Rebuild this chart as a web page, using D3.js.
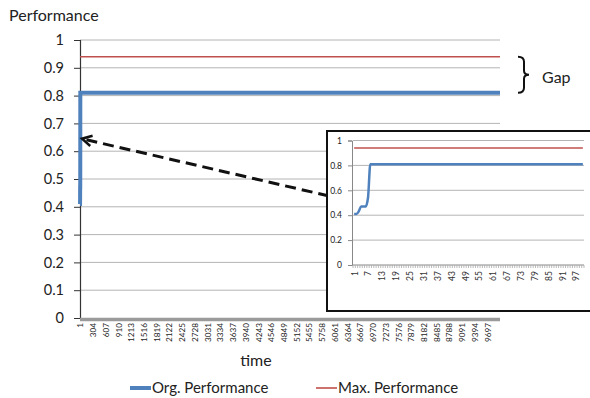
<!DOCTYPE html>
<html><head><meta charset="utf-8">
<script src="https://cdn.jsdelivr.net/npm/d3@7"></script>
<style>
html,body{margin:0;padding:0;background:#fff;}
svg{display:block;font-family:Lato,"Open Sans",sans-serif;}
</style></head>
<body><svg id="c" width="590" height="398"></svg>
<script>
// ---- data ----
const orgTimes  = [1, 2, 3, 4, 5, 6, 7, 8, 100, 10000];
const orgValues = [0.41, 0.41, 0.43, 0.47, 0.47, 0.47, 0.54, 0.81, 0.81, 0.81];
const maxTimes  = [1, 10000];
const maxValues = [0.94, 0.94];
const seriesNames = ["Org. Performance", "Max. Performance"];
const mainXTickLabels = [1,304,607,910,1213,1516,1819,2122,2425,2728,3031,3334,3637,3940,4243,4546,4849,5152,5455,5758,6061,6364,6667,6970,7273,7576,7879,8182,8485,8788,9091,9394,9697];
const mainYTicks = [0,0.1,0.2,0.3,0.4,0.5,0.6,0.7,0.8,0.9,1];
const insetXTickLabels = [1,7,13,19,25,31,37,43,49,55,61,67,73,79,85,91,97];
const insetYTicks = [0,0.2,0.4,0.6,0.8,1];
const nMain = 10000, nInset = 100;
const arrowTarget = 0.645;

const BLUE = "#4f81bd", RED = "#c0504d", GRID = "#b4b4b4";
const svg = d3.select("#c");
const org = orgTimes.map((t,i)=>({t, v: orgValues[i]}));
const mx  = maxTimes.map((t,i)=>({t, v: maxValues[i]}));

// ---- main chart ----
const x = d3.scaleLinear().domain([0.5, nMain + 0.5]).range([80, 500]);
const y = d3.scaleLinear().domain([0, 1]).range([318, 40]);

svg.append("text").attr("x", 9).attr("y", 21).attr("font-size", 16).attr("fill", "#222").text("Performance");

svg.append("g").selectAll("line").data(mainYTicks.filter(d=>d>0)).join("line")
  .attr("x1", x.range()[0]).attr("x2", x.range()[1])
  .attr("y1", d=>y(d)).attr("y2", d=>y(d))
  .attr("stroke", GRID).attr("stroke-width", 1);

const yAx = svg.append("g").attr("transform", `translate(${x.range()[0]},0)`)
  .call(d3.axisLeft(y).tickValues(mainYTicks).tickSize(6).tickPadding(10).tickFormat(d3.format("")));
yAx.select(".domain").attr("stroke", "#333").attr("stroke-width", 1.2);
yAx.selectAll(".tick line").attr("stroke", "#333");
yAx.selectAll("text").attr("font-size", 14.5).attr("font-family", "Lato").attr("fill", "#222");

// x axis (dense category ticks form a gray band)
svg.append("line").attr("x1", x(0.5)).attr("x2", x(nMain + 0.5))
  .attr("y1", 319.5).attr("y2", 319.5).attr("stroke", "#9a9a9a").attr("stroke-width", 3.5);
const xAx = svg.append("g").attr("transform", `translate(0,${y(0)})`)
  .call(d3.axisBottom(x).tickValues(mainXTickLabels).tickSize(0).tickFormat(d3.format("")));
xAx.select(".domain").remove();
xAx.selectAll("text").attr("transform", "rotate(-90)").attr("x", -5).attr("y", 0).attr("dy", "0.35em")
  .attr("text-anchor", "end").attr("font-size", 8.2).attr("font-family", "Lato").attr("fill", "#222");

const lineMain = d3.line().x(d=>x(d.t)).y(d=>y(d.v));
svg.append("path").datum(mx).attr("d", lineMain).attr("fill", "none").attr("stroke", RED).attr("stroke-width", 1.6);
svg.append("path").datum(org).attr("d", lineMain).attr("fill", "none").attr("stroke", BLUE).attr("stroke-width", 4);

svg.append("text").attr("x", 256).attr("y", 366).attr("text-anchor", "middle").attr("font-size", 16).attr("fill", "#222").text("time");

// Gap bracket
const bx = 518, bTop = y(maxValues[0]), bBot = y(0.81), bMid = (bTop + bBot) / 2;
svg.append("path")
  .attr("d", `M${bx},${bTop} Q${bx+6},${bTop} ${bx+6},${bTop+5} L${bx+6},${bMid-4} Q${bx+6},${bMid} ${bx+11},${bMid} Q${bx+6},${bMid} ${bx+6},${bMid+4} L${bx+6},${bBot-5} Q${bx+6},${bBot} ${bx},${bBot}`)
  .attr("fill", "none").attr("stroke", "#111").attr("stroke-width", 2);
svg.append("text").attr("x", 542).attr("y", 83).attr("font-size", 16).attr("fill", "#222").text("Gap");

// ---- inset ----
const ix = d3.scaleLinear().domain([0.5, nInset + 0.5]).range([353, 584]);
const iy = d3.scaleLinear().domain([0, 1]).range([265, 140.5]);
const box = {x: 327, y: 131, w: 265, h: 180};

// dashed arrow from inset to main series start
const tip = [x(0.5) + 2, y(arrowTarget)];
const tail = [box.x + 2, 196];
svg.append("line").attr("x1", tail[0]).attr("y1", tail[1]).attr("x2", tip[0] + 4).attr("y2", tip[1] + 1)
  .attr("stroke", "#111").attr("stroke-width", 3).attr("stroke-dasharray", "11,6");
const ang = Math.atan2(tail[1] - tip[1], tail[0] - tip[0]);
const ah = 11, spread = 0.5;
svg.append("path")
  .attr("d", `M${tip[0] + ah*Math.cos(ang-spread)},${tip[1] + ah*Math.sin(ang-spread)} L${tip[0]},${tip[1]} L${tip[0] + ah*Math.cos(ang+spread)},${tip[1] + ah*Math.sin(ang+spread)}`)
  .attr("fill", "none").attr("stroke", "#111").attr("stroke-width", 2.5);

svg.append("rect").attr("x", box.x).attr("y", box.y).attr("width", box.w).attr("height", box.h)
  .attr("fill", "#fff").attr("stroke", "#111").attr("stroke-width", 2);

const ig = svg.append("g");
ig.selectAll("line.g").data(insetYTicks.filter(d=>d>0)).join("line")
  .attr("x1", ix.range()[0]).attr("x2", ix.range()[1])
  .attr("y1", d=>iy(d)).attr("y2", d=>iy(d)).attr("stroke", GRID);

const iyAx = ig.append("g").attr("transform", `translate(${ix.range()[0] - 1},0)`)
  .call(d3.axisLeft(iy).tickValues(insetYTicks).tickSize(4).tickPadding(6).tickFormat(d3.format("")));
iyAx.select(".domain").attr("stroke", "#888");
iyAx.selectAll(".tick line").attr("stroke", "#888");
iyAx.selectAll("text").attr("font-size", 8.5).attr("font-family", "Lato").attr("fill", "#222");

// inset x axis with dense category ticks
const cats = d3.range(0, nInset + 1).map(i => i + 0.5);
ig.append("line").attr("x1", ix.range()[0] - 1).attr("x2", ix.range()[1]).attr("y1", iy(0)).attr("y2", iy(0)).attr("stroke", "#888");
ig.selectAll("line.ct").data(cats).join("line")
  .attr("x1", d=>ix(d)).attr("x2", d=>ix(d)).attr("y1", iy(0)).attr("y2", iy(0) + 3).attr("stroke", "#aaa").attr("stroke-width", 0.8);
const ixAx = ig.append("g").attr("transform", `translate(0,${iy(0)})`)
  .call(d3.axisBottom(ix).tickValues(insetXTickLabels).tickSize(0).tickFormat(d3.format("")));
ixAx.select(".domain").remove();
ixAx.selectAll("text").attr("transform", "rotate(-90)").attr("x", -6).attr("y", 0).attr("dy", "0.35em")
  .attr("text-anchor", "end").attr("font-size", 8.5).attr("font-family", "Lato").attr("fill", "#333");

const insetOrg = org.filter(d => d.t <= nInset);
const insetMax = [{t: 1, v: maxValues[0]}, {t: nInset, v: maxValues[1]}];
const lineInset = d3.line().x(d=>ix(d.t)).y(d=>iy(d.v)).curve(d3.curveMonotoneX);
ig.append("path").datum(insetMax).attr("d", lineInset).attr("fill", "none").attr("stroke", RED).attr("stroke-width", 1.5);
ig.append("path").datum(insetOrg).attr("d", lineInset).attr("fill", "none").attr("stroke", BLUE).attr("stroke-width", 2.5);

// ---- legend ----
const legend = [{name: seriesNames[0], color: BLUE, w: 4, x: 130}, {name: seriesNames[1], color: RED, w: 1.6, x: 316}];
const lg = svg.append("g").selectAll("g").data(legend).join("g").attr("transform", d=>`translate(${d.x},388)`);
lg.append("line").attr("x1", 0).attr("x2", 21).attr("stroke", d=>d.color).attr("stroke-width", d=>d.w);
lg.append("text").attr("x", 22).attr("y", 5).attr("font-size", 15).attr("fill", "#222").text(d=>d.name);
</script></body></html>
